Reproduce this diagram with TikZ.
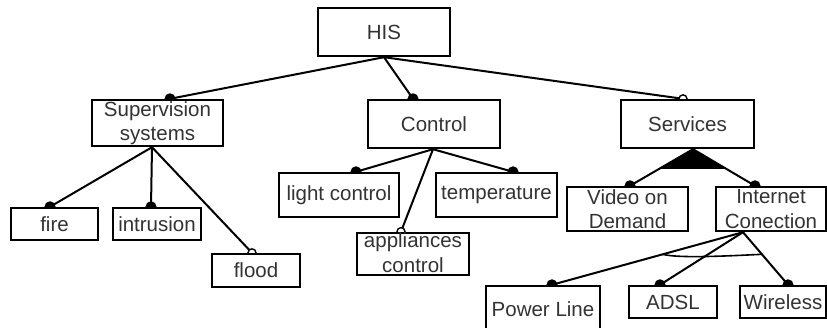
\documentclass[tikz,border=0pt]{standalone}
\usepackage{fontspec}
\setmainfont{Liberation Sans}
\usetikzlibrary{calc}
\pgfdeclarelayer{background}
\pgfsetlayers{background,main}
\begin{document}
\begin{tikzpicture}[x=1pt,y=-1pt,
  box/.style={draw,line width=2.4pt,fill=white,inner sep=0pt,align=center,
    font=\fontsize{20.5}{24.5}\selectfont,text=black!80},
  link/.style={line width=2pt},
  dotf/.style={fill=black,draw=black,line width=1pt},
  doto/.style={fill=white,draw=black,line width=1.4pt}]
\useasboundingbox (0,0) rectangle (827,327);
\node[box,minimum width=132pt,minimum height=48pt] (his) at (384,32) {HIS};
\node[box,minimum width=131pt,minimum height=46pt] (sup) at (157.5,123) {Supervision\\systems};
\node[box,minimum width=132pt,minimum height=48pt] (ctrl) at (434,124) {Control};
\node[box,minimum width=133pt,minimum height=48pt] (serv) at (687.5,124) {Services};
\node[box,minimum width=87pt,minimum height=32pt] (fire) at (54.5,224) {fire};
\node[box,minimum width=88pt,minimum height=32pt] (intr) at (157,224) {intrusion};
\node[box,minimum width=88pt,minimum height=33pt] (flood) at (256,270.5) {flood};
\node[box,minimum width=120pt,minimum height=44pt] (light) at (339,195) {light control};
\node[box,minimum width=112pt,minimum height=40pt] (appl) at (413,254) {\raisebox{3pt}{appliances}\\\raisebox{3pt}{control}};
\node[box,minimum width=121pt,minimum height=44pt] (temp) at (496.5,195) {temperature};
\node[box,minimum width=121pt,minimum height=44pt] (vod) at (627.5,209) {Video on\\Demand};
\node[box,minimum width=110pt,minimum height=44pt] (inet) at (771,209) {Internet\\Conection};
\node[box,minimum width=114pt,minimum height=46pt] (pl) at (543,309) {Power Line};
\node[box,minimum width=88pt,minimum height=32pt] (adsl) at (673,302) {ADSL};
\node[box,minimum width=86pt,minimum height=32pt] (wire) at (783,302) {Wireless};
\begin{pgfonlayer}{background}
% anchor points
\coordinate (hs) at (his.south);
\coordinate (supn) at ([xshift=12.5pt]sup.north);
\coordinate (ctrln) at ([xshift=-21pt]ctrl.north);
\coordinate (servn) at ([xshift=-4.5pt]serv.north);
\coordinate (sups) at ([xshift=-5.5pt]sup.south);
\coordinate (firen) at ([xshift=-4.5pt]fire.north);
\coordinate (intrn) at ([xshift=-6pt]intr.north);
\coordinate (floodn) at ([xshift=-4pt]flood.north);
\coordinate (ctrls) at ([xshift=-1pt]ctrl.south);
\coordinate (lightn) at ([xshift=17pt]light.north);
\coordinate (appln) at ([xshift=-12pt]appl.north);
\coordinate (tempn) at ([xshift=16.5pt]temp.north);
\coordinate (servs) at ([xshift=5.5pt]serv.south);
\coordinate (vodn) at ([xshift=2.5pt]vod.north);
\coordinate (inetn) at ([xshift=-16pt]inet.north);
\coordinate (inets) at ([xshift=-28pt]inet.south);
\coordinate (pln) at ([xshift=9pt]pl.north);
\coordinate (adsln) at ([xshift=-13pt]adsl.north);
\coordinate (wiren) at ([xshift=5pt]wire.north);
% connectors
\draw[link] (hs) -- (supn);
\draw[link] (hs) -- (ctrln);
\draw[link] (hs) -- (servn);
\draw[link] (sups) -- (firen);
\draw[link] (sups) -- (intrn);
\draw[link] (sups) -- (floodn);
\draw[link] (ctrls) -- (lightn);
\draw[link] (ctrls) -- (appln);
\draw[link] (ctrls) -- (tempn);
\draw[link] (servs) -- (vodn);
\draw[link] (servs) -- (inetn);
\draw[link] (inets) -- (pln);
\draw[link] (inets) -- (adsln);
\draw[link] (inets) -- (wiren);
% alternative (xor) triangle
\fill (servs) -- ($(servs)!0.54!(vodn)$) -- ($(servs)!0.54!(inetn)$) -- cycle;
% or arc
\draw[line width=1.6pt] ($(inets)!0.42!(pln)$) .. controls ($(inets)!0.42!(pln)+(15,4)$) and ($(inets)!0.42!(wiren)+(-40,2)$) .. ($(inets)!0.42!(wiren)$);
% end markers
\foreach \p in {supn,ctrln,firen,intrn,lightn,tempn,vodn,inetn,pln,adsln,wiren}
  \draw[dotf] (\p) circle (5pt);
\foreach \p in {servn,floodn,appln}
  \draw[doto] (\p) circle (4pt);
\end{pgfonlayer}
\end{tikzpicture}
\end{document}
